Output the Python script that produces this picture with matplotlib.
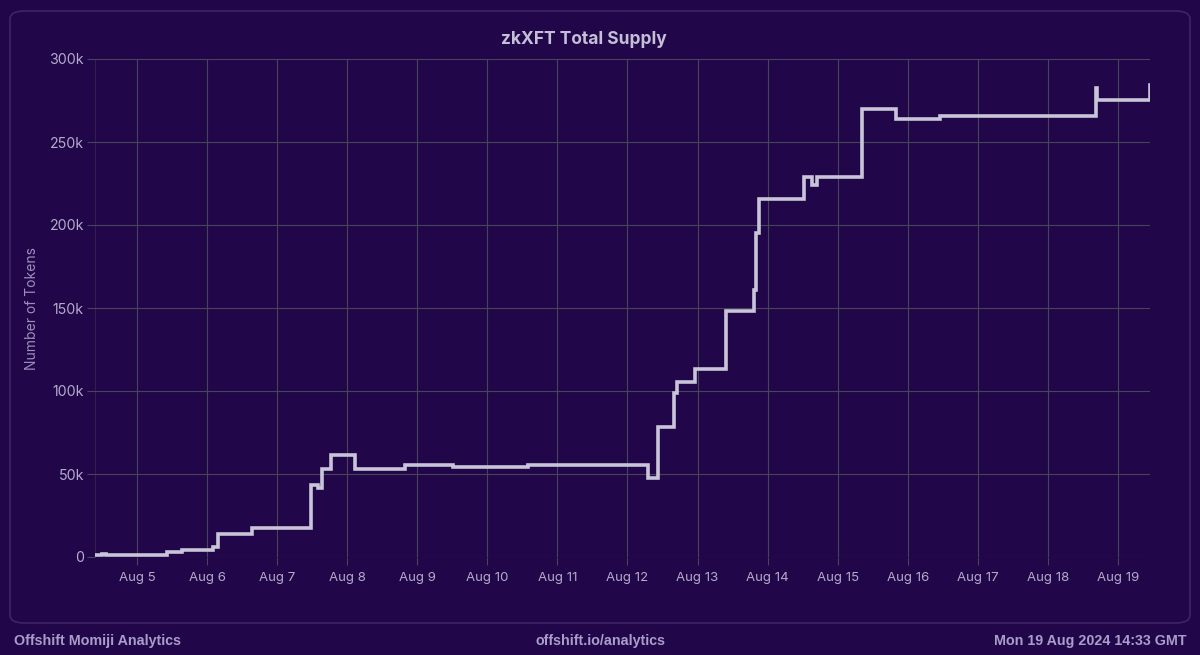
import matplotlib
matplotlib.use("Agg")
import matplotlib.pyplot as plt
import matplotlib.dates as mdates
from matplotlib.patches import FancyBboxPatch
import pandas as pd

# ---- data ----
times = [
    "2024-08-04 09:36", "2024-08-04 12:00", "2024-08-04 13:30",
    "2024-08-05 10:18", "2024-08-05 15:26",
    "2024-08-06 02:04", "2024-08-06 03:46", "2024-08-06 15:26",
    "2024-08-07 11:30", "2024-08-07 14:04", "2024-08-07 15:26", "2024-08-07 18:30",
    "2024-08-08 02:44", "2024-08-08 19:54",
    "2024-08-09 12:20",
    "2024-08-10 14:04",
    "2024-08-12 07:12", "2024-08-12 10:18", "2024-08-12 16:06", "2024-08-12 16:48",
    "2024-08-12 23:18",
    "2024-08-13 09:36", "2024-08-13 19:12", "2024-08-13 19:54", "2024-08-13 20:54",
    "2024-08-14 12:20", "2024-08-14 15:06", "2024-08-14 16:48",
    "2024-08-15 08:14", "2024-08-15 19:54",
    "2024-08-16 10:58",
    "2024-08-18 16:28", "2024-08-18 16:50",
    "2024-08-19 10:50", "2024-08-19 11:00",
]
supply = [
    1200, 1800, 1200,
    3200, 4200,
    6200, 13900, 17600,
    43400, 41600, 53000, 61400,
    53000, 55200,
    54000,
    55600,
    47400, 78500, 98800, 105600,
    113000,
    148200, 160800, 195000, 215500,
    229000, 224000, 229000,
    269700, 263900,
    265700,
    282300, 275300,
    284300, 284300,
]
y_ticks = [0, 50000, 100000, 150000, 200000, 250000, 300000]
y_tick_labels = ["0", "50k", "100k", "150k", "200k", "250k", "300k"]
title = "zkXFT Total Supply"
y_label = "Number of Tokens"
footer_left = "Offshift Momiji Analytics"
footer_mid = "offshift.io/analytics"
footer_right = "Mon 19 Aug 2024 14:33 GMT"

# ---- style ----
BG = "#22064a"
CARD_EDGE = "#3d2468"
GRID = "#48445a"
LINE = "#c9c5d8"
TICK_TXT = "#b4accb"
FOOT_TXT = "#a99dca"
TITLE_TXT = "#c4bfd6"

t = pd.to_datetime(times)

fig = plt.figure(figsize=(12, 6.55), dpi=100, facecolor=BG)

card = FancyBboxPatch((10 / 1200, 32 / 655), 1180 / 1200, 612 / 655,
                      boxstyle="round,pad=0,rounding_size=0.012",
                      transform=fig.transFigure, facecolor="none",
                      edgecolor=CARD_EDGE, linewidth=1.2, zorder=-1)
fig.patches.append(card)

ax = fig.add_axes([95 / 1200, 1 - 557 / 655, (1150 - 95) / 1200, (557 - 59) / 655])
ax.set_facecolor("none")
ax.plot(t, supply, drawstyle="steps-post", color=LINE, linewidth=2.6,
        solid_joinstyle="miter", zorder=3)

ax.set_xlim(pd.Timestamp("2024-08-04 09:36"), pd.Timestamp("2024-08-19 11:00"))
ax.set_ylim(0, 300000)
ax.set_yticks(y_ticks)
ax.set_yticklabels(y_tick_labels)
ax.xaxis.set_major_locator(mdates.DayLocator(bymonthday=range(5, 20)))
ax.xaxis.set_major_formatter(mdates.DateFormatter("Aug %-d"))

for s in ax.spines.values():
    s.set_visible(False)
ax.axvline(ax.get_xlim()[0], color=GRID, linewidth=0.6, alpha=0.5, zorder=1)
ax.grid(True, color=GRID, linewidth=0.8, zorder=1)
ax.tick_params(axis="both", colors=GRID, length=6, width=0.8,
               labelcolor=TICK_TXT, labelsize=9.5)
ax.tick_params(axis="x", pad=5)
ax.tick_params(axis="y", pad=2, labelsize=10.2)
for lab in ax.get_xticklabels() + ax.get_yticklabels():
    lab.set_fontfamily("Inter")

ax.set_ylabel(y_label, color="#9d8fbb", fontsize=10, family="Inter")
ax.yaxis.set_label_coords(-0.053, 0.5)

fig.text(584 / 1200, 1 - 40 / 655, title, ha="center", va="center",
         color=TITLE_TXT, fontsize=12.5, fontweight="bold", family="Inter")

fy = 1 - 641 / 655
fig.text(14 / 1200, fy, footer_left, ha="left", va="center", color=FOOT_TXT,
         fontsize=10.3, fontweight="bold", family="Liberation Sans")
fig.text(600 / 1200, fy, footer_mid, ha="center", va="center", color=FOOT_TXT,
         fontsize=10.3, fontweight="bold", family="Liberation Sans")
fig.text(1186 / 1200, fy, footer_right, ha="right", va="center", color=FOOT_TXT,
         fontsize=10.3, fontweight="bold", family="Liberation Sans")

fig.savefig("out.png", dpi=100, facecolor=BG)
